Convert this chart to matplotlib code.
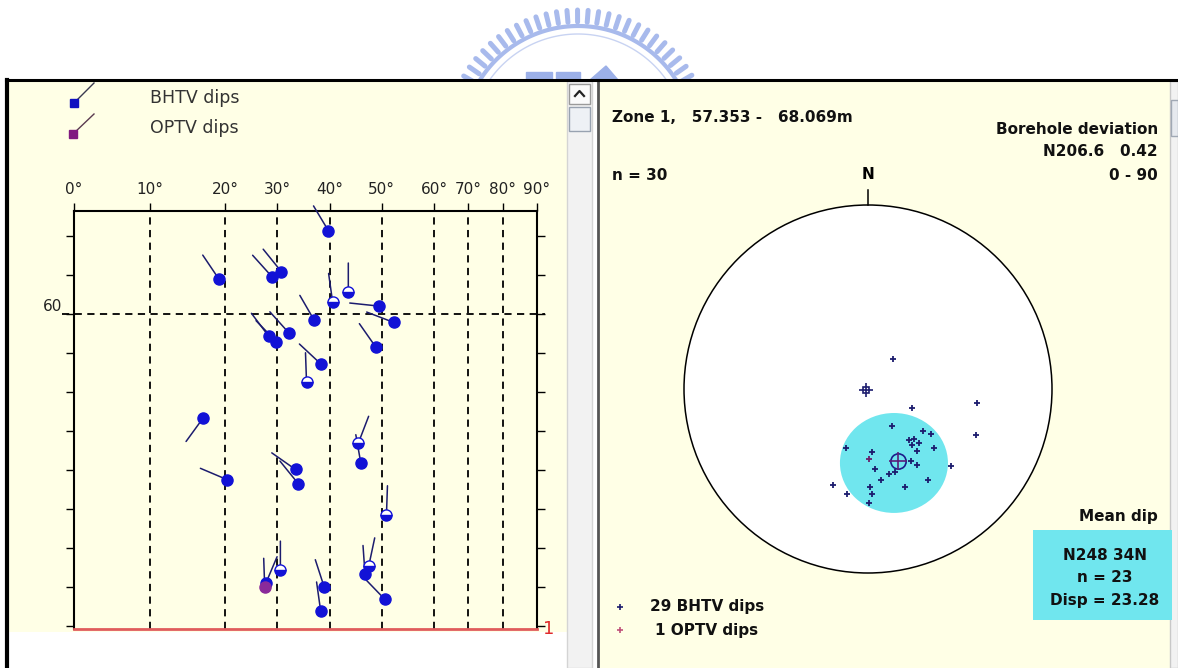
import numpy as np
import matplotlib.pyplot as plt
from matplotlib.patches import Rectangle, Circle, Ellipse, Polygon

W, H = 1178, 668

# depth / dip log (zone 1)
bhtv_dip = [19.2, 29.0, 30.8, 37.1, 28.4, 29.8, 32.3, 38.3, 35.6, 39.8,
            43.6, 40.6, 49.4, 52.3, 48.9, 17.1, 20.4, 33.5, 34.0, 27.8,
            30.6, 38.3, 39.0, 46.0, 45.5, 50.9, 46.8, 47.5, 50.6]
bhtv_depth = [59.10, 59.04, 58.91, 60.16, 60.57, 60.70, 60.49, 61.27, 61.73, 57.86,
              59.43, 59.69, 59.79, 60.21, 60.85, 62.66, 64.24, 63.98, 64.34, 66.90,
              66.56, 67.60, 67.00, 63.82, 63.31, 65.14, 66.67, 66.46, 67.31]
bhtv_azi = [326, 318, 321, 330, 323, 316, 318, 313, 358, 329,
            0, 352, 276, 291, 325, 216, 293, 305, 321, 23,
            0, 352, 342, 350, 21, 2, 356, 12, 316]
bhtv_half = [0, 0, 0, 0, 0, 0, 0, 0, 1, 0,
             1, 1, 0, 0, 0, 0, 0, 0, 0, 0,
             1, 0, 0, 0, 1, 1, 0, 1, 0]
optv_dip, optv_depth, optv_azi = [27.6], [67.00], [358]

zone_top, zone_bottom = 57.353, 68.069
dip_ticks = [0, 10, 20, 30, 40, 50, 60, 70, 80, 90]

# projected poles on the stereonet (unit circle)
net_x = [0.136, 0.239, 0.592, 0.587, 0.130, 0.299, 0.342, 0.223, 0.250, 0.277,
         0.239, 0.266, 0.359, -0.120, 0.022, 0.234, 0.266, 0.451, 0.038, 0.147,
         0.114, 0.071, 0.326, -0.190, 0.201, 0.011, -0.114, 0.022, 0.005]
net_y = [0.163, -0.103, -0.076, -0.250, -0.201, -0.228, -0.245, -0.277, -0.272, -0.293,
         -0.304, -0.337, -0.321, -0.321, -0.342, -0.391, -0.413, -0.418, -0.435, -0.451,
         -0.462, -0.495, -0.495, -0.522, -0.533, -0.533, -0.571, -0.571, -0.620]
optv_net_x, optv_net_y = [0.005], [-0.380]
mean_x, mean_y = 0.163, -0.391
disp_w, disp_h = 0.587, 0.543
disp_cx, disp_cy = 0.141, -0.402
dev_x, dev_y = -0.011, -0.005

BG = '#FFFFE6'
CYAN = '#70E6EE'
NAVY = '#1C1C6E'
BLUE = '#1212D6'
LOGO = '#A8BAEC'
narrow = ['Liberation Sans Narrow', 'DejaVu Sans']

fig = plt.figure(figsize=(W / 100, H / 100), dpi=100)
fig.patch.set_facecolor('white')

# window frame
cv = fig.add_axes([0, 0, 1, 1])
cv.set_xlim(0, W)
cv.set_ylim(H, 0)
cv.axis('off')

# faint logo behind the panels
cx, cy, R = 578, 142, 132
for t in np.radians(np.arange(150, 29, -4.6)):
    cv.plot([cx + (R - 12) * np.cos(t), cx + R * np.cos(t)],
            [cy - (R - 12) * np.sin(t), cy - R * np.sin(t)],
            color=LOGO, lw=3.6, solid_capstyle='round', zorder=0)
tt = np.radians(np.linspace(152, 28, 100))
cv.plot(cx + (R - 16) * np.cos(tt), cy - (R - 16) * np.sin(tt), color=LOGO, lw=3, zorder=0)
cv.plot(cx + (R - 24) * np.cos(tt), cy - (R - 24) * np.sin(tt), color='#C8D3F2', lw=1, zorder=0)
cv.add_patch(Rectangle((526, 72), 26, 8, color='#9CB0E8', zorder=0))
cv.add_patch(Rectangle((556, 72), 24, 8, color='#9CB0E8', zorder=0))
cv.add_patch(Polygon([[590, 80], [606, 66], [618, 80]], color='#9CB0E8', zorder=0))

# left panel
cv.add_patch(Rectangle((7, 80), 560, 552, facecolor=BG, edgecolor='none', zorder=1))
cv.add_patch(Rectangle((7, 632), 560, 36, facecolor='white', edgecolor='none', zorder=1))
cv.plot([6, 598], [80, 80], color='k', lw=2.2, zorder=3)
cv.plot([7, 7], [80, 668], color='k', lw=3, zorder=3)
# scrollbar
cv.add_patch(Rectangle((567, 81), 25, 587, facecolor='#F2F2F2', edgecolor='#D4D4D4', lw=1, zorder=2))
cv.add_patch(Rectangle((569, 84), 21, 20, facecolor='#FAFAFA', edgecolor='#9A9A9A', lw=1, zorder=2))
cv.plot([575, 579.5, 584], [96, 91, 96], color='#222222', lw=1.6, zorder=3)
cv.add_patch(Rectangle((569, 107), 21, 24, facecolor='#EEF1F5', edgecolor='#98A2B0', lw=1, zorder=2))

# right panel
cv.add_patch(Rectangle((598, 80), 572, 588, facecolor=BG, edgecolor='none', zorder=1))
cv.plot([598, 598], [80, 668], color='#555555', lw=2, zorder=3)
cv.plot([597, W], [80, 80], color='k', lw=2.2, zorder=3)
cv.add_patch(Rectangle((1170, 81), 8, 587, facecolor='#F2F2F2', edgecolor='#C8C8C8', lw=1, zorder=2))
cv.add_patch(Rectangle((1171, 100), 7, 36, facecolor='#E6E9EE', edgecolor='#A0A8B4', lw=1, zorder=2))

# legend of the log
cv.plot([74, 94], [103, 83], color='#3A3A50', lw=1, zorder=4)
cv.plot([74], [103], marker='s', ms=5.5, color='#1010C0', zorder=5)
cv.plot([73, 94], [134, 114], color='#5A3A50', lw=1, zorder=4)
cv.plot([73], [134], marker='s', ms=5.5, color='#801A80', zorder=5)
cv.text(150, 98, 'BHTV dips', fontsize=12.5, color='#333333', va='center', ha='left', zorder=5)
cv.text(150, 128, 'OPTV dips', fontsize=12.5, color='#333333', va='center', ha='left', zorder=5)

# dip vs depth log
ax = fig.add_axes([74 / W, 1 - 629 / H, (537 - 74) / W, (629 - 211) / H])
ax.patch.set_alpha(0)
fwd = lambda d: np.interp(d, [0, 20, 60, 90], [0, 151, 360, 463])
inv = lambda p: np.interp(p, [0, 151, 360, 463], [0, 20, 60, 90])
ax.set_xscale('function', functions=(fwd, inv))
ax.set_xlim(0, 90)
ax.set_ylim(zone_bottom, zone_top)
ax.set_xticks(dip_ticks)
ax.set_xticklabels([f'{d}°' for d in dip_ticks], family=narrow, fontsize=11, color='#222222')
ax.xaxis.tick_top()
ax.tick_params(axis='x', length=6, width=1, pad=4, direction='out')
ax.set_yticks(range(58, 69))
ax.tick_params(axis='y', left=True, right=True, labelleft=False, length=6, width=1, direction='out')
ax.grid(axis='x', color='k', ls=(0, (4, 3)), lw=1.3)
for s in ('top', 'left', 'right'):
    ax.spines[s].set_linewidth(1.5)
ax.spines['bottom'].set_color('#E05C5C')
ax.spines['bottom'].set_linewidth(2)
ax.hlines(60, -0.025, 1.018, transform=ax.get_yaxis_transform(), colors='k',
          linestyles=(0, (4, 3)), lw=1.3, clip_on=False)
ax.text(-0.025, 60, '60', transform=ax.get_yaxis_transform(), ha='right', va='bottom',
        family=narrow, fontsize=11, color='#222222')
ax.text(1.012, zone_bottom, '1', transform=ax.get_yaxis_transform(), ha='left', va='center',
        fontsize=13, color='#E02A2A')

tail = 29 * 72 / 100


def tadpoles(dip, depth, azi, half, color):
    for d, z, a, h in zip(dip, depth, azi, half):
        ax.annotate('', xy=(d, z), xytext=(tail * np.sin(np.radians(a)), tail * np.cos(np.radians(a))),
                    textcoords='offset points',
                    arrowprops=dict(arrowstyle='-', color=NAVY, lw=1.1, shrinkA=0, shrinkB=0))
        ax.plot(d, z, marker='o', ms=8, color=color, mec=color, mew=1,
                fillstyle='bottom' if h else 'full', markerfacecoloralt='white', zorder=5)


tadpoles(bhtv_dip, bhtv_depth, bhtv_azi, bhtv_half, BLUE)
tadpoles(optv_dip, optv_depth, optv_azi, [0], '#8A2A9A')

# stereonet
sx = fig.add_axes([(868 - 184) / W, 1 - (389 + 184) / H, 368 / W, 368 / H])
sx.set_xlim(-1, 1)
sx.set_ylim(-1, 1)
sx.set_aspect('equal')
sx.axis('off')
sx.add_patch(Circle((0, 0), 1, facecolor='white', edgecolor='k', lw=1.1, clip_on=False))
sx.add_patch(Ellipse((disp_cx, disp_cy), disp_w, disp_h, facecolor=CYAN, edgecolor='none'))
sx.plot([0, 0], [1, 1.08], color='k', lw=1.1, clip_on=False)
sx.text(0, 1.165, 'N', ha='center', va='center', fontsize=11, fontweight='bold', clip_on=False)
sx.plot(net_x, net_y, ls='none', marker='+', ms=4, mew=1.3, color=NAVY)
sx.plot(optv_net_x, optv_net_y, ls='none', marker='+', ms=4, mew=1.3, color='#6A1E6A')
sx.plot(mean_x, mean_y, marker='o', ms=11, mfc='none', mec='#1C1C8A', mew=1.2)
sx.plot(mean_x, mean_y, marker='+', ms=13, mec='#5A1E7A', mew=1.2)
sx.plot(dev_x, dev_y, marker='s', ms=5, mfc='none', mec=NAVY, mew=1.2)
sx.plot(dev_x, dev_y, marker='+', ms=10, mec=NAVY, mew=1.2)

bold = dict(fontsize=11, fontweight='bold', color='#111111', va='center', zorder=5)
cv.text(612, 118, 'Zone 1,   57.353 -   68.069m', ha='left', **bold)
cv.text(612, 175, 'n = 30', ha='left', **bold)
cv.text(1158, 130, 'Borehole deviation', ha='right', **bold)
cv.text(1158, 152, 'N206.6   0.42', ha='right', **bold)
cv.text(1158, 175, '0 - 90', ha='right', **bold)
cv.text(1158, 517, 'Mean dip', ha='right', **bold)
cv.add_patch(Rectangle((1033, 530), 139, 90, facecolor=CYAN, edgecolor='none', zorder=4))
cv.text(1105, 556, 'N248 34N', ha='center', **bold)
cv.text(1105, 578, 'n = 23', ha='center', **bold)
cv.text(1105, 600, 'Disp = 23.28', ha='center', **bold)
cv.plot([620], [607], marker='+', ms=4, mew=1.2, color=NAVY, zorder=5)
cv.plot([620], [630], marker='+', ms=4, mew=1.2, color='#C0507A', zorder=5)
cv.text(707, 607, '29 BHTV dips', ha='center', **bold)
cv.text(707, 630, '1 OPTV dips', ha='center', **bold)

fig.savefig('out.png', dpi=100)
